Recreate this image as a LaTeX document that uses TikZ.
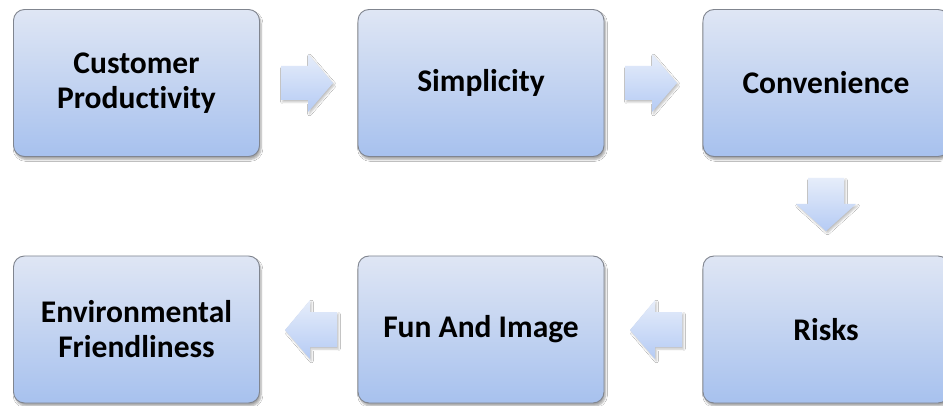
\documentclass[tikz,border=0pt]{standalone}
\usepackage{fontspec}
\setmainfont{Carlito}[Ligatures={NoCommon}]
\usetikzlibrary{shadows.blur}
\definecolor{boxtop}{HTML}{DFE6F4}
\definecolor{boxbot}{HTML}{A7C1EE}
\definecolor{boxline}{HTML}{80858F}
\definecolor{arrtop}{HTML}{E6EDFA}
\definecolor{arrbot}{HTML}{B5CBF4}
\tikzset{
  stagebox/.style={draw=boxline, line width=0.9pt, rounded corners=11pt,
    top color=boxtop, bottom color=boxbot, minimum width=246pt, minimum height=147pt,
    align=center, font=\fontsize{31.5}{35}\selectfont\bfseries, text=black,
    blur shadow={shadow blur steps=6, shadow xshift=1.5pt, shadow yshift=-3pt, shadow opacity=35}},
  flowarrow/.style={top color=arrtop, bottom color=arrbot, draw=none,
    blur shadow={shadow blur steps=4, shadow xshift=1.5pt, shadow yshift=-2pt, shadow opacity=25}}
}
\begin{document}
\begin{tikzpicture}[x=1pt,y=-1pt]
\useasboundingbox (0,0) rectangle (943,406);
\clip (0,0) rectangle (943,406);
\fill[white] (0,0) rectangle (943,406);
% boxes
\node[stagebox] (cp)  at (136.5,83)  {Customer\\Productivity};
\node[stagebox] (sim) at (481,83)    {Simplicity};
\node[stagebox] (con) at (826,83)    {Convenience};
\node[stagebox] (ris) at (826,329.5) {Risks};
\node[stagebox] (fun) at (481,329.5) {Fun And Image};
\node[stagebox] (env) at (136.5,329.5) {Environmental\\Friendliness};
% arrows
\path[flowarrow] (281,66) -- (308,66) -- (308,54) -- (333,83) -- (308,112) -- (308,100) -- (281,100) -- cycle;
\path[flowarrow] (625,66) -- (652,66) -- (652,54) -- (677,83) -- (652,112) -- (652,100) -- (625,100) -- cycle;
\path[flowarrow] (808,178) -- (844,178) -- (844,204) -- (856,204) -- (826,231) -- (796,204) -- (808,204) -- cycle;
\path[flowarrow] (682,312) -- (655,312) -- (655,300) -- (630,330) -- (655,359) -- (655,347) -- (682,347) -- cycle;
\path[flowarrow] (337,312) -- (310,312) -- (310,300) -- (285,330) -- (310,359) -- (310,347) -- (337,347) -- cycle;
\end{tikzpicture}
\end{document}
